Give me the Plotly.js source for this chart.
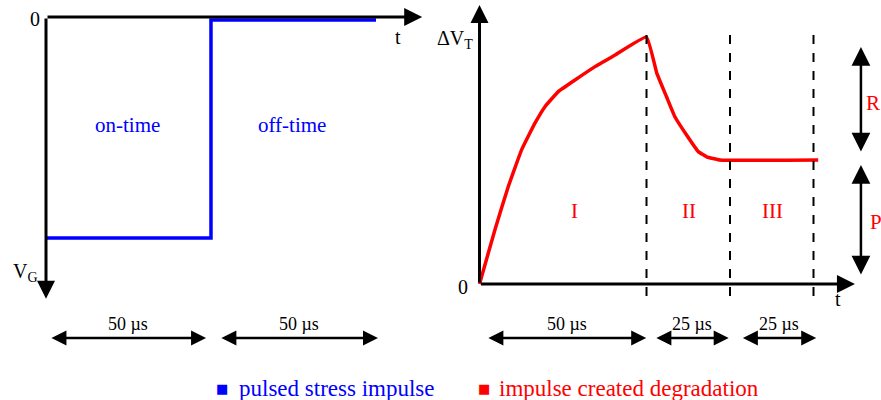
<!DOCTYPE html>
<html><head><meta charset="utf-8">
<script src="https://cdn.plot.ly/plotly-3.0.1.min.js"></script>
<style>html,body{margin:0;padding:0;background:#fff}#c{width:881px;height:400px}</style>
</head><body><div id="c"></div>
<script>
// Left panel: pulsed gate stress (time in µs, normalized V_G)
const pulseT = [0, 50, 50, 100];
const pulseV = [-1, -1, -0.014, -0.014];
// Right panel: threshold voltage shift (time in µs, normalized ΔV_T)
const degT = [0, 4.6, 8.6, 12.6, 16.6, 19.6, 23.6, 28.6, 34.6, 40.6, 50, 53.1, 56.0, 58.5, 62.0, 65.5, 68.0, 72.0, 101.4];
const degV = [0, 0.219, 0.394, 0.543, 0.651, 0.718, 0.779, 0.826, 0.880, 0.927, 1.0, 0.853, 0.758, 0.677, 0.603, 0.536, 0.515, 0.502, 0.502];
const phaseBounds = [50, 75, 100];
const phaseLabels = ['I', 'II', 'III'];
const phaseLabelT = [28.3, 62.7, 87.6];
const leftSpans = [[1.2, 48.5], [52.7, 100.6]];
const leftSpanLabels = ['50 µs', '50 µs'];
const rightSpans = [[2.2, 49.9], [52.5, 74.6], [78.4, 100.8]];
const rightSpanLabels = ['50 µs', '25 µs', '25 µs'];
const legendNames = ['pulsed stress impulse', 'impulse created degradation'];

const BLUE = '#0000ff', RED = '#ff0000', BLK = '#000000';
const FONT = 'Liberation Serif';

const traces = [
  {x: pulseT, y: pulseV, xaxis: 'x', yaxis: 'y', mode: 'lines', line: {color: BLUE, width: 3.5}, showlegend: false, name: legendNames[0]},
  {x: degT, y: degV, xaxis: 'x2', yaxis: 'y2', mode: 'lines', line: {color: RED, width: 3.5, shape: 'spline', smoothing: 0.3}, showlegend: false, name: legendNames[1]}
];

const ann = [];
function arrow(xr, yr, x0, y0, x1, y1, both, big) {
  const sz = big ? 1.5 : 1.2;
  ann.push({xref: xr, yref: yr, axref: xr, ayref: yr, x: x1, y: y1, ax: x0, ay: y0, text: '', showarrow: true,
    arrowhead: 2, arrowsize: sz, arrowwidth: both ? 2.5 : 3, arrowcolor: BLK, arrowside: both ? 'end+start' : 'end', startarrowhead: 2, startarrowsize: sz, standoff: 0, startstandoff: 0});
}
function label(xr, yr, x, y, txt, color, size) {
  ann.push({xref: xr, yref: yr, x: x, y: y, text: txt, showarrow: false, font: {family: FONT, size: size, color: color}, xanchor: 'center', yanchor: 'middle'});
}
// left axes
arrow('x', 'y', 0, 0, 114, 0);
arrow('x', 'y', 0, 0, 0, -1.275);
// right axes
arrow('x2', 'y2', 0, 0, 112.4, 0);
arrow('x2', 'y2', 0, 0, 0, 1.13);
// R / P arrows
arrow('x2', 'y2', 114.2, 0.53, 114.2, 0.96, true, true);
arrow('x2', 'y2', 114.2, 0.032, 114.2, 0.482, true, true);
// time spans
leftSpans.forEach((s, i) => { arrow('x', 'y', s[0], -1.452, s[1], -1.452, true); label('x', 'y', (s[0]+s[1])/2, -1.39, leftSpanLabels[i], BLK, 18); });
rightSpans.forEach((s, i) => { arrow('x2', 'y2', s[0], -0.219, s[1], -0.219, true); label('x2', 'y2', (s[0]+s[1])/2, -0.163, rightSpanLabels[i], BLK, 18); });

label('x', 'y', -3.3, -0.009, '0', BLK, 20);
label('x', 'y', 106.7, -0.09, 't', BLK, 20);
label('x', 'y', -6.1, -1.154, 'V<sub>G</sub>', BLK, 20);
label('x', 'y', 24.8, -0.489, 'on-time', BLUE, 21);
label('x', 'y', 74.5, -0.489, 'off-time', BLUE, 21);
label('x2', 'y2', -7.3, 0.988, 'ΔV<sub>T</sub>', BLK, 20);
label('x2', 'y2', -4.9, -0.012, '0', BLK, 20);
label('x2', 'y2', 107.3, -0.061, 't', BLK, 20);
phaseLabels.forEach((p, i) => label('x2', 'y2', phaseLabelT[i], 0.296, p, RED, 21));
label('x2', 'y2', 117.8, 0.733, 'R', RED, 21);
label('x2', 'y2', 118.7, 0.251, 'P', RED, 21);

// legend as text
const LY = 0.03;
ann.push({xref: 'paper', yref: 'paper', x: 0.252, y: LY, text: '■', showarrow: false, font: {family: 'DejaVu Sans', size: 13, color: BLUE}, xanchor: 'center', yanchor: 'middle'});
ann.push({xref: 'paper', yref: 'paper', x: 0.269, y: LY, text: legendNames[0], showarrow: false, font: {family: FONT, size: 23, color: BLUE}, xanchor: 'left', yanchor: 'middle'});
ann.push({xref: 'paper', yref: 'paper', x: 0.549, y: LY, text: '■', showarrow: false, font: {family: 'DejaVu Sans', size: 13, color: RED}, xanchor: 'center', yanchor: 'middle'});
ann.push({xref: 'paper', yref: 'paper', x: 0.564, y: LY, text: legendNames[1], showarrow: false, font: {family: FONT, size: 23, color: RED}, xanchor: 'left', yanchor: 'middle'});

const shapes = phaseBounds.map(b => ({type: 'line', xref: 'x2', yref: 'y2', x0: b, x1: b, y0: -0.049, y1: 1.02, line: {color: BLK, width: 2, dash: 'dash'}}));

const ax = {visible: false, showgrid: false, zeroline: false, fixedrange: true};
const layout = {
  width: 881, height: 400, margin: {l: 0, r: 0, t: 0, b: 0}, paper_bgcolor: '#fff', plot_bgcolor: '#fff',
  showlegend: false,
  xaxis: Object.assign({domain: [0, 0.5], range: [-13.94, 119.55]}, ax),
  yaxis: Object.assign({domain: [0, 1], range: [-1.733, 0.0769]}, ax),
  xaxis2: Object.assign({domain: [0.5, 1], range: [-11.68, 120.21], anchor: 'y2'}, ax),
  yaxis2: Object.assign({domain: [0, 1], range: [-0.4696, 1.1498], anchor: 'x2'}, ax),
  annotations: ann, shapes: shapes
};
Plotly.newPlot('c', traces, layout, {staticPlot: true, displayModeBar: false});
</script></body></html>
